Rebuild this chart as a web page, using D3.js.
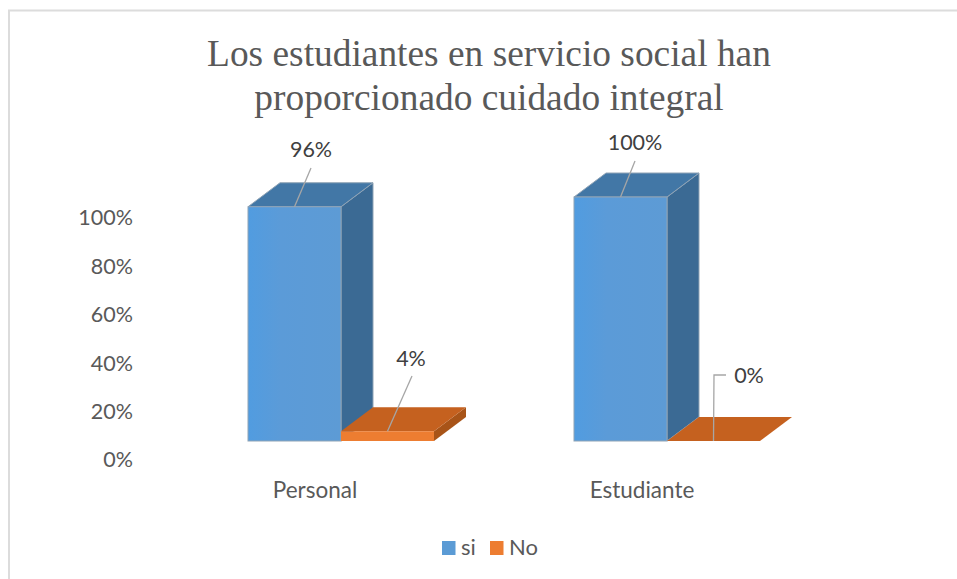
<!DOCTYPE html>
<html>
<head>
<meta charset="utf-8">
<script src="https://cdn.jsdelivr.net/npm/d3@7"></script>
<style>
  html, body { margin: 0; padding: 0; background: #fff; }
  svg { display: block; }
  text { font-family: Lato, "Open Sans", sans-serif; }
</style>
</head>
<body>
<svg id="chart" width="957" height="579"></svg>
<script>
const categories = ["Personal", "Estudiante"];
const seriesNames = ["si", "No"];
const siValues = [0.96, 1.00];
const noValues = [0.04, 0.00];
const yTicks = [0, 0.2, 0.4, 0.6, 0.8, 1.0];
const titleLines = ["Los estudiantes en servicio social han", "proporcionado cuidado integral"];

const width = 957, height = 579;
const svg = d3.select("#chart");

const colors = {
    si: { front: "#5b9bd5", top: "#4277a6", side: "#3b6a94", edge: "#8fa3b5" },
    No: { front: "#ed7d31", top: "#c5611f", side: "#a85418", edge: "none" }
};

// slight lighter bands on the front of the blue bars
const grad = svg.append("defs").append("linearGradient").attr("id", "siFront");
grad.append("stop").attr("offset", "0%").attr("stop-color", "#519ce0");
grad.append("stop").attr("offset", "35%").attr("stop-color", "#5b9bd8");
grad.append("stop").attr("offset", "100%").attr("stop-color", "#5d9bd5");

// chart frame, runs off the picture at the right and bottom
svg.append("path")
    .attr("d", `M9,${height} V10.5 H${width}`)
    .attr("fill", "none")
    .attr("stroke", "#dcdcdc")
    .attr("stroke-width", 2);

// title
svg.append("g").selectAll("text")
    .data(titleLines)
    .enter()
    .append("text")
    .attr("x", 489)
    .attr("y", (d, i) => 66 + i * 44)
    .attr("text-anchor", "middle")
    .style("font-family", '"Liberation Serif", serif')
    .style("font-size", "37.4px")
    .attr("fill", "#595959")
    .text(d => d);

// value axis labels sit a bit lower than the bars front plane
const yAxisScale = d3.scaleLinear().domain([0, 1]).range([460, 218]);
const yAxis = d3.axisLeft(yAxisScale)
    .tickValues(yTicks)
    .tickFormat(d3.format(".0%"))
    .tickSize(0)
    .tickPadding(0);

const axisG = svg.append("g")
    .attr("transform", "translate(133,0)")
    .call(yAxis);
axisG.select(".domain").remove();
axisG.selectAll("text")
    .attr("fill", "#595959")
    .style("font-size", "21.5px");

// scales for the bars
const groupScale = d3.scaleBand().domain(categories).range([178, 830]);
const barScale = d3.scaleBand().domain(seriesNames).range([0, 186]);
const yScale = d3.scaleLinear().domain([0, 1]).range([441, 197]);
const depth = { x: 32, y: -24 };

const groupX = c => groupScale(c) + (groupScale.bandwidth() - 186) / 2;

const bars = [];
categories.forEach((c, i) => {
    bars.push({ category: c, series: "si", value: siValues[i] });
    bars.push({ category: c, series: "No", value: noValues[i] });
});

const poly = pts => pts.map(p => p.join(",")).join(" ");

// si comes first in the array, the orange floor lies over the blue side face
const barG = svg.append("g");
bars.forEach(d => {
    const x0 = groupX(d.category) + barScale(d.series);
    const x1 = x0 + barScale.bandwidth();
    const y0 = yScale(0), y1 = yScale(d.value);
    const c = colors[d.series];
    const g = barG.append("g").attr("class", "bar");
    // side
    g.append("polygon")
        .attr("points", poly([[x1, y0], [x1 + depth.x, y0 + depth.y], [x1 + depth.x, y1 + depth.y], [x1, y1]]))
        .attr("fill", c.side)
        .attr("stroke", c.edge);
    // top
    g.append("polygon")
        .attr("points", poly([[x0, y1], [x0 + depth.x, y1 + depth.y], [x1 + depth.x, y1 + depth.y], [x1, y1]]))
        .attr("fill", c.top)
        .attr("stroke", c.edge);
    // front
    if (y0 > y1) {
        g.append("rect")
            .attr("x", x0)
            .attr("y", y1)
            .attr("width", x1 - x0)
            .attr("height", y0 - y1)
            .attr("fill", d.series === "si" ? "url(#siFront)" : c.front)
            .attr("stroke", c.edge);
    }
});

// data labels with their leader lines
const labelOffsets = [
    { lx: 311, ly: 168, tx: 311, ty: 157 },
    { lx: 412, ly: 376, tx: 411, ty: 366 },
    { lx: 635, ly: 161, tx: 635, ty: 150 },
    { lx: 714, ly: 375, tx: 749, ty: 383, elbow: 726 }
];

bars.forEach((d, i) => {
    const o = labelOffsets[i];
    const x0 = groupX(d.category) + barScale(d.series);
    const anchorX = x0 + barScale.bandwidth() / 2;
    const anchorY = yScale(d.value);
    let path = `M${anchorX},${anchorY} L${o.lx},${o.ly}`;
    if (o.elbow) path += ` H${o.elbow}`;
    svg.append("path")
        .attr("d", path)
        .attr("fill", "none")
        .attr("stroke", "#a6a6a6")
        .attr("stroke-width", 1.3);
    svg.append("text")
        .attr("x", o.tx)
        .attr("y", o.ty)
        .attr("text-anchor", "middle")
        .attr("fill", "#404040")
        .style("font-size", "21.5px")
        .text(d3.format(".0%")(d.value));
});

// category labels
svg.append("g").selectAll("text")
    .data(categories)
    .enter()
    .append("text")
    .attr("x", (d, i) => [315, 642][i])
    .attr("y", 498)
    .attr("text-anchor", "middle")
    .attr("fill", "#595959")
    .style("font-size", "22.5px")
    .text(d => d);

// legend
const legend = svg.append("g");
seriesNames.forEach((s, i) => {
    const lx = [442, 490][i];
    legend.append("rect")
        .attr("x", lx)
        .attr("y", 541)
        .attr("width", 13.5)
        .attr("height", 14)
        .attr("fill", colors[s].front);
    legend.append("text")
        .attr("x", lx + 19)
        .attr("y", 555)
        .attr("fill", "#595959")
        .style("font-size", "22px")
        .text(s);
});
</script>
</body>
</html>
